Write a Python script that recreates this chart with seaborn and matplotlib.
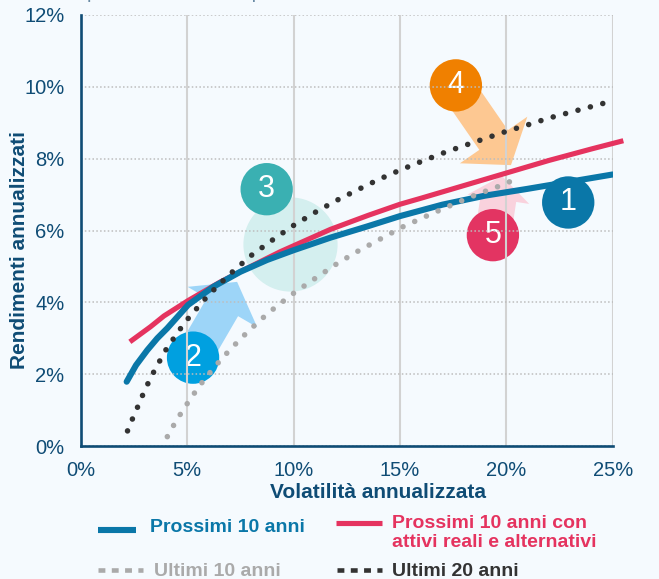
import matplotlib
matplotlib.use("Agg")
import matplotlib.pyplot as plt
from matplotlib.lines import Line2D
import pandas as pd
import seaborn as sns

# ---- Frontier data: annualised volatility (%) -> annualised return (%) ----
vol_next10 = [2.16, 2.6, 3.13, 3.6, 4.07, 5.05, 6.25, 7.5, 8.76, 10.0, 11.73, 13.5, 15.0, 17.0, 19.0, 21.0, 23.0, 25.0]
ret_next10 = [1.79, 2.25, 2.67, 3.0, 3.28, 3.93, 4.44, 4.85, 5.18, 5.45, 5.80, 6.12, 6.40, 6.72, 6.97, 7.16, 7.36, 7.56]

vol_next10_alt = [2.31, 3.28, 3.91, 5.05, 6.57, 8.13, 9.38, 11.73, 13.5, 15.0, 16.0, 18.0, 20.0, 22.0, 24.0, 25.5]
ret_next10_alt = [2.90, 3.32, 3.62, 4.05, 4.57, 5.04, 5.41, 6.03, 6.42, 6.73, 6.90, 7.25, 7.60, 7.95, 8.27, 8.50]

vol_last10 = [4.07, 4.38, 4.71, 5.05, 5.41, 5.78, 6.18, 6.58, 7.0, 7.44, 7.9, 8.36, 8.83, 9.32,
              10.0, 11.0, 12.0, 12.95, 14.04, 15.13, 16.28, 17.43, 18.6, 19.78, 20.36]
ret_last10 = [0.26, 0.59, 0.91, 1.22, 1.53, 1.83, 2.12, 2.40, 2.67, 2.94, 3.21, 3.46, 3.71, 3.94,
              4.25, 4.66, 5.06, 5.40, 5.75, 6.10, 6.41, 6.71, 7.00, 7.26, 7.41]

vol_last20 = [2.2, 2.45, 2.7, 2.95, 3.2, 3.5, 3.8, 4.1, 4.5, 4.85, 5.25, 6.0, 7.0, 8.0, 9.0, 10.0,
              11.0, 12.0, 13.0, 14.0, 15.0, 16.0, 17.0, 18.0, 19.0, 20.0, 21.0, 22.0, 23.0, 24.0, 25.0]
ret_last20 = [0.42, 0.78, 1.12, 1.47, 1.79, 2.14, 2.46, 2.78, 3.10, 3.41, 3.69, 4.20, 4.78, 5.30, 5.73, 6.14,
              6.50, 6.83, 7.13, 7.42, 7.68, 7.92, 8.15, 8.36, 8.56, 8.76, 8.94, 9.13, 9.29, 9.45, 9.61]

series_names = ["Prossimi 10 anni", "Prossimi 10 anni con\nattivi reali e alternativi",
                "Ultimi 10 anni", "Ultimi 20 anni"]

x_ticks = [0, 5, 10, 15, 20, 25]
y_ticks = [0, 2, 4, 6, 8, 10, 12]
x_label = "Volatilità annualizzata"
y_label = "Rendimenti annualizzati"

# Numbered call-outs (centre in data units) and where their arrows point
callout_text = ["1", "2", "3", "4", "5"]
callout_x = [22.91, 5.28, 8.74, 17.63, 19.37]
callout_y = [6.78, 2.46, 7.15, 10.04, 5.87]
halo3_x, halo3_y = 9.85, 5.62
arrow2_tip = (7.35, 4.57)
arrow4_tip = (20.22, 7.82)
arrow5_tip = (19.79, 7.52)

# ---- Styling ----
NAVY = "#0F4C75"
BG = "#F5FAFE"
C_BLUE = "#0A77A8"
C_RED = "#E5335F"
C_GREY = "#AAAAAA"
C_BLACK = "#333333"
callout_colors = ["#0A77A8", "#00A0E0", "#3AB0B2", "#F08000", "#E33462"]

sns.set_theme(style="white")
plt.rcParams["font.family"] = ["Liberation Sans", "DejaVu Sans"]

W, H = 659, 579
fig = plt.figure(figsize=(W / 100, H / 100), dpi=100, facecolor=BG)
ax = fig.add_axes([80.7 / W, 1 - 446 / H, (612.7 - 80.7) / W, (446 - 15) / H])
ax.set_facecolor(BG)


def fx(px):
    return px / W


def fy(py):
    return 1 - py / H


# Call-out decorations (below grid and curves)
ax.scatter([halo3_x], [halo3_y], s=4600, color="#D4EFEF", linewidths=0, zorder=1.0)
arrow_specs = [
    (1, arrow2_tip, "#9DD5F8", 2.1, 5.8, 2.6),
    (3, arrow4_tip, "#FDC892", 2.2, 5.9, 2.5),
    (4, arrow5_tip, "#F9D2DD", 1.7, 4.5, 2.6),
]
for idx, tip, col, hl, hw, tw in arrow_specs:
    ax.annotate("", xy=tip, xytext=(callout_x[idx], callout_y[idx]), zorder=1.1,
                arrowprops=dict(arrowstyle=f"simple,head_length={hl},head_width={hw},tail_width={tw}",
                                fc=col, ec="none", lw=0, shrinkA=0, shrinkB=0, mutation_scale=10))
ax.scatter(callout_x, callout_y, s=1420, c=callout_colors, linewidths=0, zorder=1.3)
for t, x, y in zip(callout_text, callout_x, callout_y):
    ax.text(x, y, t, color="white", fontsize=22, ha="center", va="center", zorder=1.4)

# Frontier curves
df_a = pd.DataFrame({"vol": vol_next10_alt, "ret": ret_next10_alt})
df_n = pd.DataFrame({"vol": vol_next10, "ret": ret_next10})
df_10 = pd.DataFrame({"vol": vol_last10, "ret": ret_last10})
df_20 = pd.DataFrame({"vol": vol_last20, "ret": ret_last20})

sns.lineplot(data=df_a, x="vol", y="ret", ax=ax, color=C_RED, lw=3.7, zorder=3,
             clip_on=False, estimator=None, solid_capstyle="butt", solid_joinstyle="round")
sns.lineplot(data=df_n, x="vol", y="ret", ax=ax, color=C_BLUE, lw=4.4, zorder=3.1,
             estimator=None, solid_capstyle="round", solid_joinstyle="round")
sns.lineplot(data=df_10, x="vol", y="ret", ax=ax, color=C_GREY, lw=4.0, zorder=3.2,
             estimator=None, linestyle=(0, (0.01, 2.3)), dash_capstyle="round")
sns.lineplot(data=df_20, x="vol", y="ret", ax=ax, color=C_BLACK, lw=4.0, zorder=3.3,
             estimator=None, linestyle=(0, (0.01, 2.3)), dash_capstyle="round")

# Axes, ticks, grid
ax.set_xlim(0, 25)
ax.set_ylim(0, 12)
ax.set_xticks(x_ticks)
ax.set_yticks(y_ticks)
ax.set_xticklabels([f"{v}%" for v in x_ticks])
ax.set_yticklabels([f"{v}%" for v in y_ticks])
ax.set_xlabel("")
ax.set_ylabel("")
ax.set_axisbelow(False)
ax.xaxis.grid(True, color="#D2D2D2", lw=1.5, ls="-")
ax.yaxis.grid(True, color="#BDBDBD", lw=1.1, ls=(0, (1, 1.5)))
for s in ["top", "right"]:
    ax.spines[s].set_visible(False)
for s in ["left", "bottom"]:
    ax.spines[s].set_color(NAVY)
    ax.spines[s].set_linewidth(1.9)
    ax.spines[s].set_zorder(2.6)
ax.tick_params(axis="both", colors=NAVY, labelcolor=NAVY, labelsize=14.5,
               length=3.6, width=1.9, direction="out")
ax.tick_params(axis="x", pad=7)
ax.tick_params(axis="y", pad=8)

# Axis titles
fig.text(fx(378), fy(493), x_label, ha="center", va="center", fontsize=15,
         fontweight="bold", color=NAVY)
fig.text(fx(20), fy(250), y_label, ha="center", va="center", rotation=90,
         fontsize=15, fontweight="bold", color=NAVY)

# Heading (runs off the top edge of the figure)
fig.text(fx(62), fy(-2), "Capital market assumptions e rendimenti storici", ha="left",
         va="baseline", fontsize=14, color="#6A8BA5")

# Legend drawn by hand below the plot
legend_items = [
    (series_names[0], C_BLUE, (98, 136), 530, (150, 527), "-", 4.4, "butt"),
    (series_names[1], C_RED, (336, 382), 523, (392, 533), "-", 3.7, "butt"),
    (series_names[2], C_GREY, (98, 143), 570, (154, 572), (0, (1.5, 1.4)), 3.3, "butt"),
    (series_names[3], C_BLACK, (337, 382), 570, (392, 572), (0, (1.5, 1.4)), 3.3, "butt"),
]
for name, col, (x0, x1), ly, (tx, ty), ls, lw, cap in legend_items:
    fig.add_artist(Line2D([fx(x0), fx(x1)], [fy(ly), fy(ly)], transform=fig.transFigure,
                          color=col, lw=lw, ls=ls, solid_capstyle=cap, dash_capstyle=cap))
    fig.text(fx(tx), fy(ty), name, ha="left", va="center", fontsize=14,
             fontweight="bold", color=col, linespacing=1.15)

fig.savefig("out.png", dpi=100, facecolor=BG)
